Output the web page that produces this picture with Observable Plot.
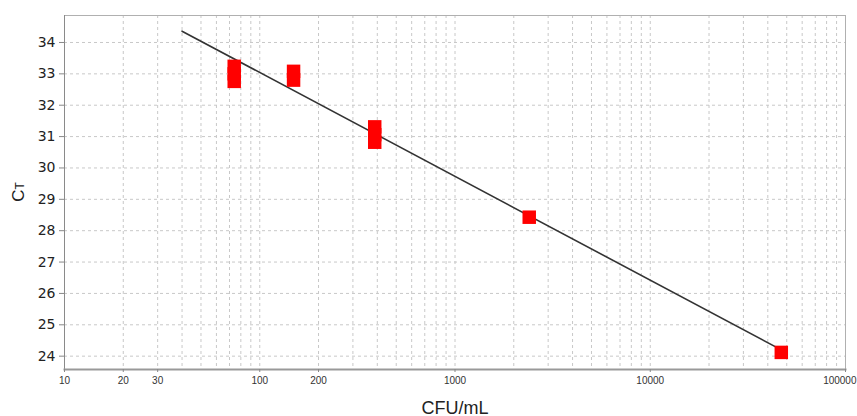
<!DOCTYPE html>
<html>
<head>
<meta charset="utf-8">
<script src="https://cdn.jsdelivr.net/npm/d3@7"></script>
<script src="https://cdn.jsdelivr.net/npm/@observablehq/plot@0.6"></script>
<style>
  html, body { margin: 0; padding: 0; background: #fff; }
  #chart svg { display: block; }
</style>
</head>
<body>
<div id="chart"></div>
<script>
// Replicate measurements (CFU/mL, Ct)
const pointCFU = [74, 74, 74, 149, 149, 388, 388, 388, 2400, 46900];
const pointCt  = [33.24, 33.0, 32.76, 33.08, 32.80, 31.31, 31.06, 30.82, 28.43, 24.12];

// Standard-curve fit line endpoints
const fitCFU = [40, 46900];
const fitCt  = [34.36, 24.2];

// Axis ticks
const xTickValues = [10, 20, 30, 100, 200, 1000, 10000, 100000];
const xTickLabels = ["10", "20", "30", "100", "200", "1000", "10000", "100000"];
const yTickValues = [24, 25, 26, 27, 28, 29, 30, 31, 32, 33, 34];
const decades = [10, 100, 1000, 10000];
const multipliers = [1, 2, 3, 4, 5, 6, 7, 8, 9];

const xGrid = decades.flatMap(d => multipliers.map(m => d * m)).concat([100000]);
const points = pointCFU.map((x, i) => ({x, y: pointCt[i]}));
const fit = fitCFU.map((x, i) => ({x, y: fitCt[i]}));
const xLabels = xTickValues.map((x, i) => ({x, label: xTickLabels[i], last: i === xTickValues.length - 1}));

const yDomain = [23.575, 34.86];

const chart = Plot.plot({
  width: 857,
  height: 416,
  marginLeft: 64,
  marginRight: 12,
  marginTop: 15,
  marginBottom: 47,
  style: {fontFamily: "'Liberation Sans', Arial, sans-serif", background: "#fff"},
  x: {type: "log", domain: [10, 100000]},
  y: {domain: yDomain},
  marks: [
    Plot.gridX(xGrid, {stroke: "#c8c8c8", strokeOpacity: 1, strokeDasharray: "3,3"}),
    Plot.gridY(yTickValues, {stroke: "#c8c8c8", strokeOpacity: 1, strokeDasharray: "3,3"}),
    Plot.frame({stroke: "#b0b0b0"}),
    Plot.frame({anchor: "left", stroke: "#8a8a8a"}),
    Plot.frame({anchor: "bottom", stroke: "#999", strokeWidth: 2}),
    Plot.axisY({ticks: yTickValues, tickSize: 5, tickPadding: 4, fontSize: 14,
      fontFamily: "'DejaVu Sans', sans-serif", color: "#222", stroke: "#888", label: null}),
    Plot.axisX({ticks: xTickValues, tickFormat: () => "", tickSize: 3, stroke: "#888", label: null}),
    Plot.text(xLabels.filter(d => !d.last), {x: "x", text: "label", frameAnchor: "bottom", dy: 14,
      fontSize: 10, fill: "#333", textAnchor: "middle"}),
    Plot.text(xLabels.filter(d => d.last), {x: "x", text: "label", frameAnchor: "bottom", dy: 14,
      dx: 11, fontSize: 10, fill: "#333", textAnchor: "end"}),
    Plot.line(fit, {x: "x", y: "y", stroke: "#333", strokeWidth: 1.6}),
    Plot.dot(points, {x: "x", y: "y", symbol: "square", r: 7.6, fill: "#f00", stroke: "none"}),
    Plot.text(["CFU/mL"], {frameAnchor: "bottom", dy: 44, fontSize: 18, fill: "#222", textAnchor: "middle"})
  ]
});

// Rotated y-axis label "CT" with small T
const svg = d3.select(chart);
const lbl = svg.append("text")
  .attr("transform", "translate(24,192) rotate(-90)")
  .attr("text-anchor", "middle")
  .attr("font-family", "'Liberation Sans', Arial, sans-serif")
  .attr("font-size", 17)
  .attr("fill", "#222");
lbl.append("tspan").text("C");
lbl.append("tspan").attr("font-size", 12).text("T");

document.getElementById("chart").appendChild(chart);
</script>
</body>
</html>
